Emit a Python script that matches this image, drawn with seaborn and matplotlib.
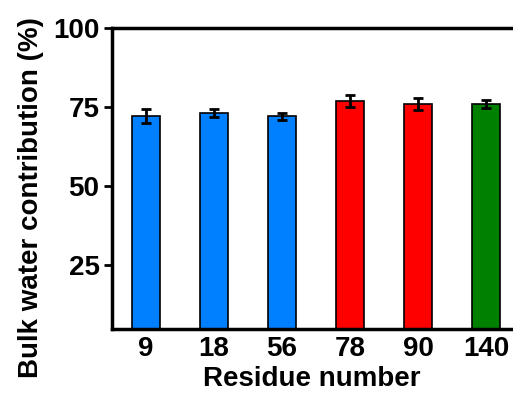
import pandas as pd
import seaborn as sns
import matplotlib.pyplot as plt

residues = ['9', '18', '56', '78', '90', '140']
contribution = [72.2, 73.0, 72.1, 76.9, 75.9, 75.9]
errors = [2.2, 1.3, 1.1, 2.0, 2.0, 1.2]
colors = ['#0080FF', '#0080FF', '#0080FF', '#FF0000', '#FF0000', '#008000']

df = pd.DataFrame({'res': residues, 'val': contribution})

sns.set_style('ticks')
plt.rcParams['font.family'] = ['Liberation Sans', 'DejaVu Sans']
plt.rcParams['font.weight'] = 'bold'
plt.rcParams['text.color'] = 'black'
plt.rcParams['axes.labelcolor'] = 'black'
plt.rcParams['xtick.color'] = 'black'
plt.rcParams['ytick.color'] = 'black'
plt.rcParams['axes.edgecolor'] = 'black'

fig = plt.figure(figsize=(5.13, 3.94), dpi=100)
ax = fig.add_axes([112 / 513, 65 / 394, 408 / 513, 301 / 394])

sns.barplot(data=df, x='res', y='val', hue='res', palette=colors, legend=False,
            width=0.4, edgecolor='black', linewidth=1.2, saturation=1,
            ax=ax, errorbar=None)
ax.errorbar(range(len(residues)), contribution, yerr=errors, fmt='none',
            ecolor='black', elinewidth=2, capsize=3.5, capthick=2)

ax.set_ylim(4.7, 100)
ax.set_xlim(-0.5, 5.5)
ax.set_yticks([25, 50, 75, 100])
ax.set_xlabel('Residue number', fontsize=20, fontweight='bold')
ax.set_ylabel('Bulk water contribution (%)', fontsize=20, fontweight='bold')
ax.xaxis.set_label_coords(0.49, -0.122)
ax.yaxis.set_label_coords(-0.167, 0.437)
ax.xaxis.label.set_va('top')
ax.tick_params(axis='y', labelsize=20, width=2, length=6, pad=3)
ax.tick_params(axis='x', labelsize=20, length=0, pad=5)
for s in ax.spines.values():
    s.set_linewidth(2.5)

fig.savefig('out.png', dpi=100)
